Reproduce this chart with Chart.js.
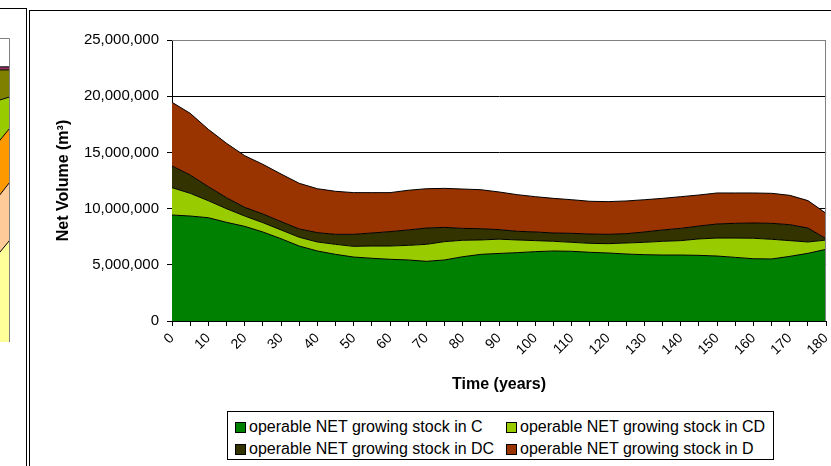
<!DOCTYPE html>
<html>
<head>
<meta charset="utf-8">
<script src="https://cdn.jsdelivr.net/npm/chart.js@4/dist/chart.umd.min.js"></script>
<style>
  html, body { margin: 0; padding: 0; background: #fff; }
  body { width: 831px; height: 466px; position: relative; overflow: hidden; font-family: Arial, "Liberation Sans", sans-serif; }
  .box { position: absolute; border: 1px solid #000; box-sizing: border-box; }
  #leftCanvas { position: absolute; left: -8px; top: 38px; }
  #mainCanvas { position: absolute; left: 31px; top: 11px; }
  #legend { position: absolute; left: 227px; top: 411px; width: 547px; height: 49px; border: 1px solid #000; box-sizing: border-box; font-size: 16px; color: #000; }
  .item { position: absolute; height: 20px; line-height: 20px; white-space: nowrap; }
  .swatch { display: inline-block; width: 9px; height: 9px; border: 1px solid #000; margin-right: 3px; vertical-align: -1px; }
</style>
</head>
<body>
<div class="box" style="left:-10px; top:8px; width:37px; height:500px;"></div>
<div class="box" style="left:29px; top:10px; width:900px; height:500px;"></div>
<canvas id="leftCanvas" width="18" height="304"></canvas>
<canvas id="mainCanvas" width="811" height="387"></canvas>
<div id="legend"></div>
<script>
// time axis (years), one category every 5 years
const years = [0, 5, 10, 15, 20, 25, 30, 35, 40, 45, 50, 55, 60, 65, 70, 75, 80, 85, 90,
  95, 100, 105, 110, 115, 120, 125, 130, 135, 140, 145, 150, 155, 160, 165, 170, 175, 180];

// net volume (m3) per forest type
const stockC = [9430000, 9340000, 9190000, 8780000, 8420000, 7920000, 7320000, 6670000, 6230000, 5930000,
  5690000, 5580000, 5490000, 5430000, 5310000, 5430000, 5720000, 5930000, 6010000, 6080000,
  6170000, 6230000, 6200000, 6110000, 6050000, 5960000, 5900000, 5870000, 5870000, 5840000,
  5780000, 5660000, 5540000, 5520000, 5750000, 6020000, 6380000];
const stockCD = [2430000, 2020000, 1510000, 1210000, 920000, 830000, 780000, 780000, 800000, 890000,
  950000, 1090000, 1180000, 1300000, 1510000, 1630000, 1460000, 1280000, 1270000, 1130000,
  980000, 860000, 800000, 800000, 830000, 980000, 1100000, 1220000, 1280000, 1460000,
  1600000, 1720000, 1820000, 1750000, 1400000, 1010000, 820000];
const stockDC = [1930000, 1630000, 1250000, 980000, 770000, 770000, 740000, 740000, 830000, 890000,
  1070000, 1160000, 1280000, 1370000, 1450000, 1270000, 1060000, 1000000, 850000, 770000,
  770000, 740000, 800000, 830000, 830000, 830000, 920000, 1010000, 1090000, 1150000,
  1250000, 1310000, 1360000, 1420000, 1420000, 1240000, 120000];
const stockD = [5670000, 5490000, 5100000, 4840000, 4600000, 4420000, 4240000, 4060000, 3910000, 3830000,
  3710000, 3590000, 3470000, 3530000, 3500000, 3470000, 3500000, 3470000, 3350000, 3260000,
  3140000, 3080000, 2990000, 2910000, 2910000, 2910000, 2870000, 2810000, 2820000, 2760000,
  2760000, 2700000, 2670000, 2670000, 2610000, 2440000, 2260000];

const seriesNames = ['operable NET growing stock in C', 'operable NET growing stock in CD',
  'operable NET growing stock in DC', 'operable NET growing stock in D'];
const seriesColors = ['#008000', '#99CC00', '#333300', '#993300'];
const yTicks = [0, 5000000, 10000000, 15000000, 20000000, 25000000];

// neighbouring chart, only its right edge is visible (last two points)
const leftYears = [170, 180];
const leftStacks = [[6.6, 8.4], [4.67, 4.77], [4.53, 4.44], [3.9, 2.55], [2.67, 2.22], [0.25, 0.25]];
const leftColors = ['#FFFF99', '#FFCC99', '#FF9900', '#99CC00', '#808000', '#993366'];

Chart.defaults.font.family = 'Arial, "Liberation Sans", sans-serif';
Chart.defaults.color = '#000';

const plotFrame = {
  id: 'plotFrame',
  afterDatasetsDraw(chart) {
    const a = chart.chartArea;
    const ctx = chart.ctx;
    ctx.save();
    ctx.strokeStyle = '#808080';
    ctx.lineWidth = 1;
    ctx.beginPath();
    ctx.moveTo(a.left, Math.round(a.top) + 0.5);
    ctx.lineTo(Math.round(a.right) - 0.5, Math.round(a.top) + 0.5);
    ctx.lineTo(Math.round(a.right) - 0.5, a.bottom);
    ctx.stroke();
    ctx.restore();
  }
};

new Chart(document.getElementById('leftCanvas'), {
  type: 'line',
  data: {
    labels: leftYears,
    datasets: leftStacks.map((d, i) => ({
      data: d,
      backgroundColor: leftColors[i],
      borderColor: '#000',
      borderWidth: 1,
      pointRadius: 0,
      fill: i === 0 ? 'origin' : '-1'
    }))
  },
  options: {
    responsive: false,
    animation: false,
    layout: { padding: 0 },
    plugins: { legend: { display: false }, tooltip: { enabled: false } },
    scales: {
      x: { display: false },
      y: { display: false, stacked: true, min: 0, max: 25 }
    }
  },
  plugins: [plotFrame]
});

const chart = new Chart(document.getElementById('mainCanvas'), {
  type: 'line',
  data: {
    labels: years,
    datasets: [stockC, stockCD, stockDC, stockD].map((d, i) => ({
      label: seriesNames[i],
      data: d,
      backgroundColor: seriesColors[i],
      borderColor: '#000',
      borderWidth: 1,
      pointRadius: 0,
      tension: 0,
      fill: i === 0 ? 'origin' : '-1'
    }))
  },
  options: {
    responsive: false,
    animation: false,
    layout: { padding: { left: 19, top: 29, right: 5, bottom: 0 } },
    plugins: { legend: { display: false }, tooltip: { enabled: false } },
    scales: {
      x: {
        offset: false,
        grid: { drawOnChartArea: false, drawTicks: true, tickLength: 5, tickColor: '#000' },
        border: { color: '#000' },
        ticks: {
          autoSkip: false,
          maxRotation: 45,
          minRotation: 45,
          padding: 4,
          font: { size: 14 },
          callback: (v, i) => (years[i] % 10 === 0 ? String(years[i]) : '')
        },
        title: { display: true, text: 'Time (years)', font: { size: 16, weight: 'bold' }, padding: { top: 4, bottom: 4 } },
        afterFit: s => { s.height = 77; }
      },
      y: {
        stacked: true,
        min: 0,
        max: 25000000,
        afterBuildTicks: s => { s.ticks = yTicks.map(v => ({ value: v })); },
        grid: {
          color: c => (c.tick && c.tick.value === 25000000 ? '#808080' : '#000'),
          tickColor: '#000',
          tickLength: 5
        },
        border: { color: '#000' },
        ticks: { padding: 8, font: { size: 15 }, callback: v => v.toLocaleString('en-US') },
        title: { display: true, text: 'Net Volume (m³)', font: { size: 16, weight: 'bold' }, padding: { top: 4, bottom: 4 } },
        afterFit: s => { s.width = 122; }
      }
    }
  },
  plugins: [plotFrame]
});

// legend box built from the chart's datasets
const legend = document.getElementById('legend');
const slots = [[7, 5], [278, 5], [7, 27], [278, 27]];
chart.data.datasets.forEach((ds, i) => {
  const item = document.createElement('div');
  item.className = 'item';
  item.style.left = slots[i][0] + 'px';
  item.style.top = slots[i][1] + 'px';
  const sw = document.createElement('span');
  sw.className = 'swatch';
  sw.style.background = ds.backgroundColor;
  item.appendChild(sw);
  item.appendChild(document.createTextNode(ds.label));
  legend.appendChild(item);
});
</script>
</body>
</html>
